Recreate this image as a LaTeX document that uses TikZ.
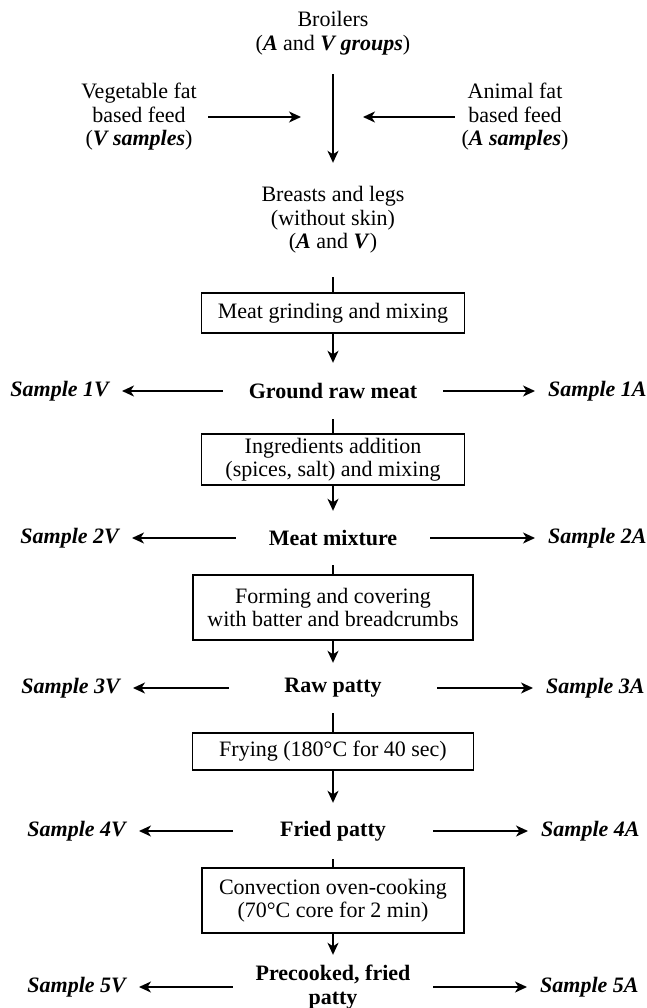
\documentclass[tikz,border=0pt]{standalone}
\usepackage{fontspec}
\setmainfont{Liberation Serif}
\usetikzlibrary{arrows.meta}
\newcommand{\bi}[1]{\textbf{\textit{#1}}}
\begin{document}
\begin{tikzpicture}[x=1pt,y=1pt,
  every node/.style={font=\fontsize{22}{23.5}\selectfont, align=center},
  ln/.style={line width=1.6pt},
  arr/.style={ln,-{Stealth[length=12pt,width=11pt,inset=3.5pt]}},
  procbox/.style={draw, line width=1.5pt, inner sep=0pt},
  txt/.style={inner sep=0pt},
  midtxt/.style={inner sep=0pt, font=\fontsize{22}{23.5}\selectfont\bfseries},
  sampL/.style={anchor=east, inner xsep=13pt, inner ysep=0pt, font=\fontsize{22}{23.5}\selectfont\bfseries\itshape},
  sampR/.style={anchor=west, inner xsep=13pt, inner ysep=0pt, font=\fontsize{22}{23.5}\selectfont\bfseries\itshape}
]
\useasboundingbox (0,0) rectangle (646,-1008);

% top part
\node[txt, minimum height=82pt] (broilers) at (333,-33) {Broilers\\(\bi{A} and \bi{V groups})};
\node[txt, minimum height=114pt] (breasts) at (333,-220) {Breasts and legs\\(without skin)\\(\bi{A} and \bi{V})};
\draw[arr] (broilers.south) -- (breasts.north);

\node[txt, minimum width=138pt] (veg) at (139,-117) {Vegetable fat\\based feed\\(\bi{V samples})};
\coordinate (vegtip) at (301,-117);
\draw[arr] (veg.east) -- (vegtip);
\node[txt, minimum width=120pt] (ani) at (515,-117) {Animal fat\\based feed\\(\bi{A samples})};
\coordinate (anitip) at (363,-117);
\draw[arr] (ani.west) -- (anitip);

% step 1
\node[procbox, minimum width=263pt, minimum height=40pt] (b1) at (333,-313) {Meat grinding and mixing};
\draw[ln] (breasts.south) -- (b1.north);
\node[midtxt, minimum width=220pt, minimum height=56pt] (g) at (333,-391) {Ground raw meat};
\draw[arr] (b1.south) -- (g.north);
\node[sampL] (s1v) at (122,-391) {Sample 1V};
\node[sampR] (s1a) at (535,-391) {Sample 1A};
\draw[arr] (g.west) -- (s1v.east);
\draw[arr] (g.east) -- (s1a.west);

% step 2
\node[procbox, minimum width=263pt, minimum height=51pt] (b2) at (333,-459.5) {Ingredients addition\\(spices, salt) and mixing};
\draw[ln] (g.south) -- (b2.north);
\node[midtxt, minimum width=194pt, minimum height=54pt] (mix) at (333,-538) {Meat mixture};
\draw[arr] (b2.south) -- (mix.north);
\node[sampL] (s2v) at (132,-538) {Sample 2V};
\node[sampR] (s2a) at (535,-538) {Sample 2A};
\draw[arr] (mix.west) -- (s2v.east);
\draw[arr] (mix.east) -- (s2a.west);

% step 3
\node[procbox, minimum width=280pt, minimum height=65pt] (b3) at (333,-607.5) {Forming and covering\\with batter and breadcrumbs};
\draw[ln] (mix.south) -- (b3.north);
\node[midtxt, minimum width=208pt, minimum height=50pt] (raw) at (333,-688) {Raw patty};
\draw[arr] (b3.south) -- (raw.north);
\node[sampL] (s3v) at (133,-688) {Sample 3V};
\node[sampR] (s3a) at (533,-688) {Sample 3A};
\draw[arr] (raw.west) -- (s3v.east);
\draw[arr] (raw.east) -- (s3a.west);

% step 4
\node[procbox, minimum width=281pt, minimum height=37pt] (b4) at (333,-751.5) {Frying (180°C for 40 sec)};
\draw[ln] (raw.south) -- (b4.north);
\node[midtxt, minimum width=200pt, minimum height=56pt] (fried) at (333,-831) {Fried patty};
\draw[arr] (b4.south) -- (fried.north);
\node[sampL] (s4v) at (139,-831) {Sample 4V};
\node[sampR] (s4a) at (528,-831) {Sample 4A};
\draw[arr] (fried.west) -- (s4v.east);
\draw[arr] (fried.east) -- (s4a.west);

% step 5
\node[procbox, minimum width=262pt, minimum height=65pt] (b5) at (333,-900.5) {Convection oven-cooking\\(70°C core for 2 min)};
\draw[ln] (fried.south) -- (b5.north);
\node[midtxt, minimum width=200pt, minimum height=64pt] (pre) at (333,-987) {Precooked, fried\\patty};
\draw[arr] (b5.south) -- (pre.north);
\node[sampL] (s5v) at (139,-987) {Sample 5V};
\node[sampR] (s5a) at (527,-987) {Sample 5A};
\draw[arr] (pre.west) -- (s5v.east);
\draw[arr] (pre.east) -- (s5a.west);
\end{tikzpicture}
\end{document}
